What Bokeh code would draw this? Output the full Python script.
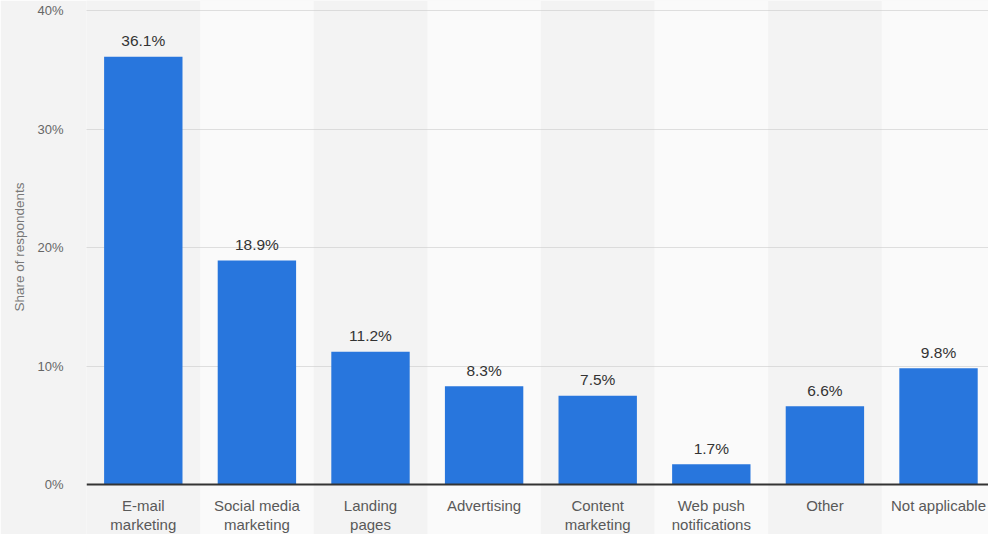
from bokeh.plotting import figure
from bokeh.models import Range1d, FixedTicker, Span, Title, ColumnDataSource
from bokeh.core.properties import value
from bokeh.embed import file_html
from bokeh.resources import INLINE

categories = ["E-mail\nmarketing", "Social media\nmarketing", "Landing\npages", "Advertising",
              "Content\nmarketing", "Web push\nnotifications", "Other", "Not applicable"]
values = [36.1, 18.9, 11.2, 8.3, 7.5, 1.7, 6.6, 9.8]
value_labels = ["36.1%", "18.9%", "11.2%", "8.3%", "7.5%", "1.7%", "6.6%", "9.8%"]
y_ticks = [0, 10, 20, 30, 40]
y_tick_labels = ["0%", "10%", "20%", "30%", "40%"]
y_title = "Share of respondents"

FONT = "Liberation Sans"
xs = list(range(len(categories)))

src = ColumnDataSource(dict(x=xs, top=values, cat=categories, lab=value_labels))

p = figure(width=988, height=534, output_backend="svg", toolbar_location=None,
           x_axis_location=None,
           x_range=Range1d(-0.5, 7.44), y_range=Range1d(-4.219, 40.844),
           min_border_left=86, min_border_right=0, min_border_top=0, min_border_bottom=0,
           background_fill_color="#f3f3f3", border_fill_color="#f3f3f3",
           outline_line_color=None)

# alternating light bands
odd = [i for i in xs if i % 2 == 1]
bands = p.quad(left=[i - 0.5 for i in odd], right=[i + 0.5 for i in odd],
               bottom=[-50] * len(odd), top=[100] * len(odd),
               fill_color="#fafafa", line_color=None)
bands.level = "image"

p.xgrid.visible = False
p.ygrid.ticker = FixedTicker(ticks=y_ticks[1:])
p.ygrid.grid_line_color = "#c2c2c2"
p.ygrid.grid_line_dash = "1 1"
p.ygrid.grid_line_width = 1

p.vbar(x="x", top="top", bottom=0, width=0.69, source=src,
       fill_color="#2876dd", line_color=None)

p.add_layout(Span(location=0, dimension="width", line_color="#333333", line_width=2))

p.text(x="x", y="top", text="lab", source=src, text_align="center", text_baseline="middle",
       y_offset=-16, text_font=value(FONT), text_font_size="15.5px", text_color="#333333")

p.text(x="x", y=0, text="cat", source=src, text_align="center", text_baseline="top",
       y_offset=12, text_font=value(FONT), text_font_size="15px", text_color="#595959",
       text_line_height=1.12)

ax = p.yaxis[0]
ax.ticker = FixedTicker(ticks=y_ticks)
ax.major_label_overrides = {t: l for t, l in zip(y_ticks, y_tick_labels)}
ax.axis_line_color = None
ax.major_tick_line_color = None
ax.minor_tick_line_color = None
ax.major_label_standoff = 17
ax.major_label_text_font = FONT
ax.major_label_text_font_size = "13px"
ax.major_label_text_color = "#666666"

p.add_layout(Title(text=y_title, align="right", offset=182, standoff=16,
                   text_font=FONT, text_font_size="13.5px", text_color="#777777",
                   text_font_style="normal"), "left")

open("out.html", "w").write(file_html(p, INLINE))
